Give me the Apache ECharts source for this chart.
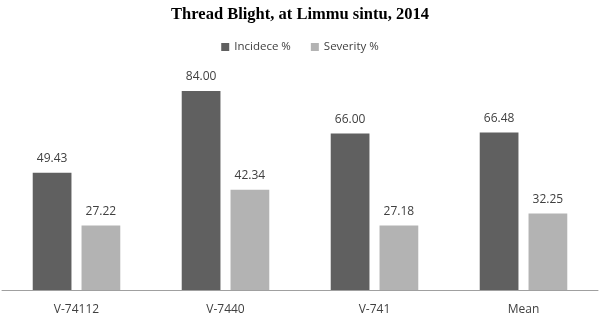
<!DOCTYPE html>
<html><head><meta charset="utf-8">
<script src="https://cdn.jsdelivr.net/npm/echarts@6/dist/echarts.min.js"></script>
<style>html,body{margin:0;padding:0;background:#fff}#c{width:600px;height:319px}</style>
</head><body><div id="c"></div>
<script>
const categories = ['V-74112', 'V-7440', 'V-741', 'Mean'];
const incidence = [49.43, 84.00, 66.00, 66.48];
const severity = [27.22, 42.34, 27.18, 32.25];
const chart = echarts.init(document.getElementById('c'), null, {renderer: 'canvas'});
const lbl = {show: true, position: 'top', distance: 8, color: '#404040', fontSize: 12, fontFamily: 'Open Sans, Liberation Sans, sans-serif', formatter: p => p.value.toFixed(2)};
chart.setOption({
  animation: false,
  title: {text: 'Thread Blight, at Limmu sintu, 2014', left: 'center', top: 1,
    textStyle: {fontFamily: 'Liberation Serif, Times New Roman, serif', fontWeight: 'bold', fontSize: 16.5, color: '#000'}},
  legend: {top: 36, left: 'center', itemWidth: 8, itemHeight: 8, itemGap: 20,
    textStyle: {fontFamily: 'Open Sans, Liberation Sans, sans-serif', fontSize: 11.5, color: '#404040'},
    data: [{name: 'Incidece %', icon: 'rect'}, {name: 'Severity %', icon: 'rect'}]},
  grid: {left: 2, right: 2, top: 53, bottom: 29, containLabel: false},
  xAxis: {type: 'category', data: categories,
    axisLine: {lineStyle: {color: '#a0a0a0', width: 1}}, axisTick: {show: false},
    axisLabel: {color: '#404040', fontSize: 12, margin: 14, fontFamily: 'Open Sans, Liberation Sans, sans-serif'}},
  yAxis: {type: 'value', min: 0, max: 100, show: false, splitLine: {show: false}},
  series: [
    {name: 'Incidece %', type: 'bar', data: incidence, barWidth: '26%', barGap: '26%',
      itemStyle: {color: '#606060'}, label: lbl},
    {name: 'Severity %', type: 'bar', data: severity, barWidth: '26%',
      itemStyle: {color: '#b3b3b3'}, label: lbl}
  ]
});
</script></body></html>
